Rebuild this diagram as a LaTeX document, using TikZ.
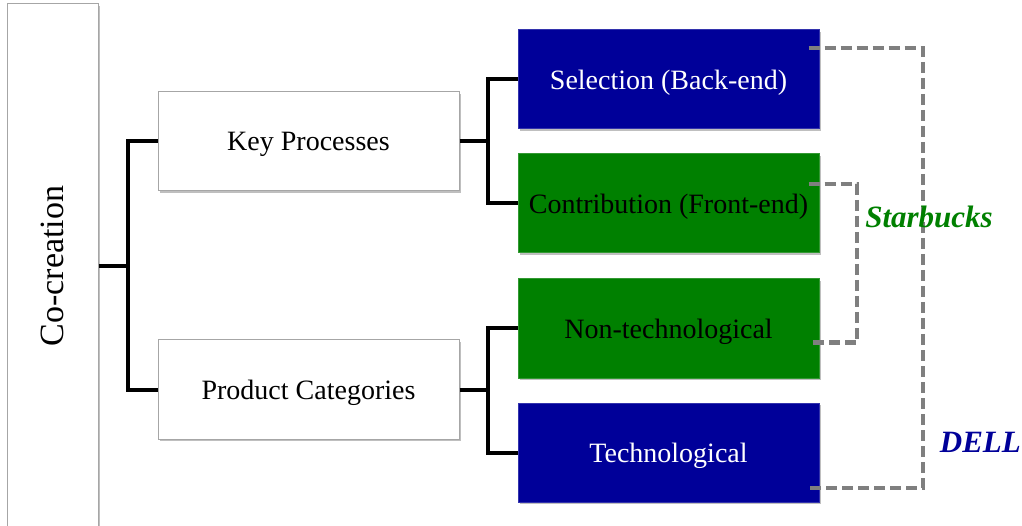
\documentclass[tikz,border=0pt]{standalone}
\usepackage{fontspec}
\setmainfont{Liberation Serif}
\usetikzlibrary{calc,shadows}
\definecolor{dblue}{RGB}{0,0,153}
\definecolor{dgreen}{RGB}{0,128,0}
\definecolor{dgray}{RGB}{127,127,127}
\begin{document}
\begin{tikzpicture}[x=1pt,y=-1pt,
  myshadow/.style={drop shadow={shadow xshift=2pt,shadow yshift=-2pt,opacity=0.25,fill=black}},
  wbox/.style={draw=black!35, fill=white, line width=1pt, minimum width=301pt, minimum height=99pt, inner sep=0pt, text depth=0pt, font=\fontsize{28}{32}\selectfont, myshadow},
  bbox/.style={wbox, draw=dblue!80!white, fill=dblue, text=white},
  gbox/.style={wbox, draw=dgreen!80!white, fill=dgreen, text=black},
  tree/.style={line width=4pt, black},
  dashline/.style={line width=4pt, dgray, dash pattern=on 11pt off 5pt},
  brand/.style={font=\fontsize{31}{34}\selectfont\bfseries\itshape, inner sep=0pt}]
\useasboundingbox (0,0) rectangle (1022,526);
\clip (0,0) rectangle (1022,526);
% left column
\node[wbox, minimum width=91pt, minimum height=524pt] (co) at (52.5,266) {};
\node[rotate=90, font=\fontsize{34}{38}\selectfont, inner sep=0pt] (cot) at (co.center) {Co-creation};
% middle
\node[wbox] (kp) at (308.5,141.5) {Key Processes};
\node[wbox] (pc) at (308.5,389.5) {Product Categories};
% right
\node[bbox] (sel) at (668.5,79.5) {Selection (Back-end)};
\node[gbox] (con) at (668.5,203.5) {Contribution (Front-end)};
\node[gbox] (non) at (668.5,328.5) {Non-technological};
\node[bbox] (tec) at (668.5,452.5) {Technological};
% tree connectors
\coordinate (j1) at (128,266);
\coordinate (j2) at (488,141.5);
\coordinate (j3) at (488,389.5);
\draw[tree] (co.east |- j1) -- (j1);
\draw[tree] (kp.west) -| (j1) |- (pc.west);
\draw[tree] (kp.east) -- (j2);
\draw[tree] (sel.west) -| (j2) |- (con.west);
\draw[tree] (pc.east) -- (j3);
\draw[tree] (non.west) -| (j3) |- (tec.west);
% dashed brackets
\coordinate (d1) at ($(sel.north east)+(-11,19)$);
\coordinate (d2) at ($(tec.north east)+(-11,85)$);
\coordinate (d3) at ($(con.north east)+(-11,31)$);
\coordinate (d4) at ($(non.north east)+(-11,64)$);
\coordinate (e1) at (923,49);
\coordinate (e2) at (857,185);
\draw[dashline] (d1) -- (d1 -| e1) -- (d2 -| e1) -- (d2);
\draw[dashline] (d3) -- (d3 -| e2) -- (d4 -| e2) -- (d4);
% brand labels
\node[brand, text=dgreen] (sb) at (929,217) {Starbucks};
\node[brand, text=dblue, anchor=east] (dell) at (1021,442) {DELL};
\end{tikzpicture}
\end{document}
